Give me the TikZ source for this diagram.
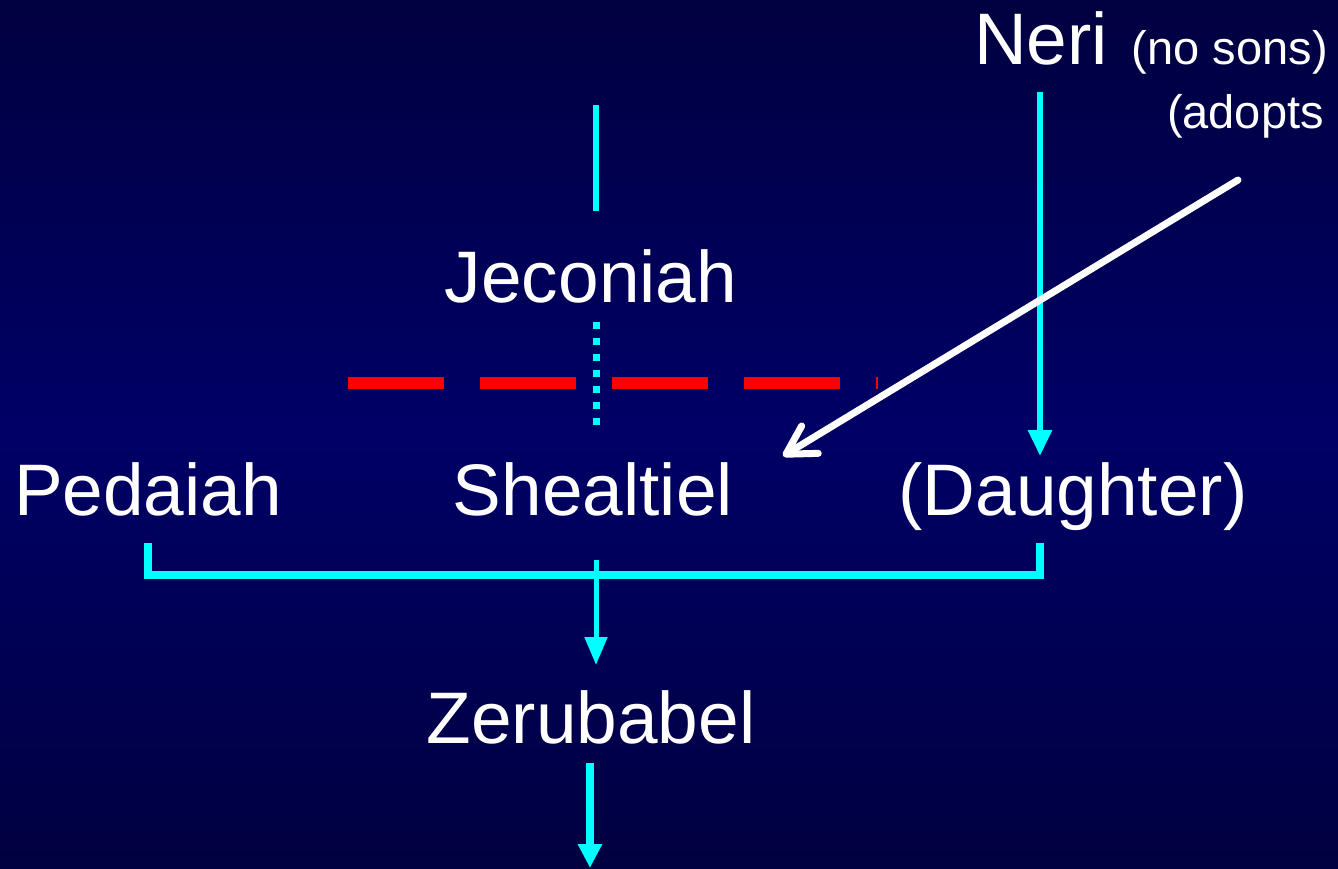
\documentclass[tikz,border=0pt]{standalone}
\usepackage{fontspec}
\setmainfont{Liberation Sans}
\usetikzlibrary{arrows.meta}
\definecolor{bgedge}{RGB}{0,0,64}
\definecolor{bgmid}{RGB}{0,0,102}
\definecolor{cy}{RGB}{0,255,255}
\definecolor{rd}{RGB}{255,0,0}
\begin{document}
\begin{tikzpicture}[x=1pt,y=-1pt,
  bigtext/.style={text=white,inner sep=0pt,anchor=base,font=\fontsize{73}{80}\selectfont},
  smalltext/.style={text=white,inner sep=0pt,anchor=base east,font=\fontsize{47}{52}\selectfont},
  cyline/.style={draw=cy,line width=6pt},
  cyarrow/.style={cyline,-{Triangle[length=26pt,width=23pt]}},
  reddash/.style={draw=rd,line width=12pt,dash pattern=on 96pt off 36pt},
  cydots/.style={draw=cy,line width=7pt,dash pattern=on 7pt off 9pt},
  whitearrow/.style={draw=white,line width=7pt,line cap=round,line join=round,
    -{Straight Barb[length=28pt,width=32pt,round]}}
]
\useasboundingbox (0,0) rectangle (1338,868);
\shade[top color=bgedge,bottom color=bgedge,middle color=bgmid] (0,0) rectangle (1338,868);

% text nodes
\node[bigtext,anchor=base west] (neri) at (974,64) {Neri};
\node[smalltext] (nosons) at (1328,64) {(no sons)};
\node[smalltext] (adopts) at (1324,128) {(adopts};
\node[bigtext] (jec) at (591,302) {Jeconiah};
\node[bigtext] (ped) at (148,515) {Pedaiah};
\node[bigtext] (she) at (593,515) {Shealtiel};
\node[bigtext] (dau) at (1073,515) {(Daughter)};
\node[bigtext] (zer) at (591,743) {Zerubabel};

% connector end points
\coordinate (jtop) at (596,105);
\coordinate (jbot) at (596,211);
\coordinate (dtop) at (596,322);
\coordinate (dbot) at (596,426);
\coordinate (rl) at (348,383);
\coordinate (rr) at (878,383);
\coordinate (nstart) at (1040,92);
\coordinate (ntip) at (1040,456);
\coordinate (pl) at (148,543);
\coordinate (pr) at (1040,543);
\coordinate (bar) at (1040,575);
\coordinate (cstart) at (596,560);
\coordinate (ctip) at (596,665);
\coordinate (zstart) at (590,763);
\coordinate (ztip) at (590,868);
\coordinate (wstart) at (1238,180);
\coordinate (wtip) at (783,456);

% lines
\draw[cyline] (jtop) -- (jbot);
\draw[reddash] (rl) -- (rr);
\draw[cydots] (dtop) -- (dbot);
\draw[cyarrow] (nstart) -- (ntip);
\draw[cyline,line width=8pt,line join=miter] (pl) |- (bar) -- (pr);
\draw[cyarrow,line width=5pt,-{Triangle[length=28pt,width=22pt]}] (cstart) -- (ctip);
\draw[cyarrow,line width=8pt,-{Triangle[length=24pt,width=23pt]}] (zstart) -- (ztip);
\draw[whitearrow] (wstart) -- (wtip);
\end{tikzpicture}
\end{document}
